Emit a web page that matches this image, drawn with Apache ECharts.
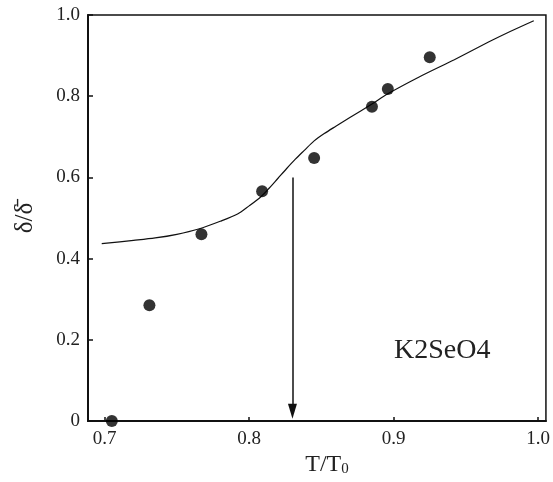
<!DOCTYPE html>
<html>
<head>
<meta charset="utf-8">
<script src="https://cdn.jsdelivr.net/npm/echarts@6/dist/echarts.min.js"></script>
<style>html,body{margin:0;padding:0;background:#fff;}#c{width:553px;height:482px;}</style>
</head>
<body>
<div id="c"></div>
<script>
// Measured points
const pointsX = [0.705, 0.731, 0.767, 0.809, 0.845, 0.885, 0.896, 0.925];
const pointsY = [0.0, 0.285, 0.46, 0.566, 0.648, 0.774, 0.818, 0.896];
// Fitted curve
const curveX = [0.698, 0.720, 0.735, 0.750, 0.765, 0.780, 0.792, 0.800, 0.808, 0.814, 0.820, 0.826, 0.832, 0.838, 0.845, 0.852, 0.860, 0.870, 0.885, 0.896, 0.918, 0.942, 0.966, 0.981, 0.997];
const curveY = [0.437, 0.445, 0.451, 0.460, 0.473, 0.492, 0.510, 0.530, 0.552, 0.574, 0.598, 0.622, 0.645, 0.666, 0.690, 0.708, 0.726, 0.748, 0.781, 0.806, 0.848, 0.890, 0.934, 0.960, 0.986];
// Transition arrow
const arrowX = 0.83;
const arrowTopY = 0.6;
const arrowTipY = 0.024;
// Tick labels
const xTicks = [0.7, 0.8, 0.9, 1.0];
const yTicks = [0, 0.2, 0.4, 0.6, 0.8, 1.0];
const sampleLabel = 'K2SeO4';

const font = 'Liberation Serif';
const chart = echarts.init(document.getElementById('c'));
chart.setOption({
  animation: false,
  backgroundColor: '#fff',
  grid: { left: 88, right: 1, top: 15, bottom: 50, show: true, borderColor: '#111', borderWidth: 1.5 },
  xAxis: {
    type: 'value', min: 0.6885, max: 1.0054,
    name: '{a|T/T}{b|0}', nameLocation: 'middle', nameGap: 22,
    nameTextStyle: { padding: [0, 0, 0, 20], rich: {
      a: { fontFamily: font, fontSize: 24, color: '#222' },
      b: { fontFamily: font, fontSize: 15, color: '#222', padding: [8, 0, 0, 0] } } },
    axisLine: { show: true, onZero: false, lineStyle: { color: '#111', width: 2 } },
    axisTick: { show: true, inside: true, length: 4, customValues: xTicks, lineStyle: { color: '#111', width: 1.5 } },
    axisLabel: { customValues: xTicks, margin: 8, fontFamily: font, fontSize: 19, color: '#222', formatter: v => v.toFixed(1) },
    splitLine: { show: false }
  },
  yAxis: {
    type: 'value', min: 0, max: 1, interval: 0.2,
    name: 'δ/δ\u0304', nameLocation: 'middle', nameGap: 50,
    nameTextStyle: { fontFamily: font, fontSize: 25, color: '#222' },
    axisLine: { show: true, lineStyle: { color: '#111', width: 2 } },
    axisTick: { show: true, inside: true, length: 5, lineStyle: { color: '#111', width: 1.5 } },
    axisLabel: { margin: 8, fontFamily: font, fontSize: 19, color: '#222', formatter: v => v === 0 ? '0' : v.toFixed(1) },
    splitLine: { show: false }
  },
  series: [
    {
      type: 'line', data: curveX.map((x, i) => [x, curveY[i]]), smooth: 0.3, showSymbol: false,
      lineStyle: { color: '#111', width: 1.2 }, z: 2
    },
    {
      type: 'scatter', data: pointsX.map((x, i) => [x, pointsY[i]]), symbol: 'circle', symbolSize: 12,
      itemStyle: { color: '#000' }, z: 3
    },
    {
      type: 'line', data: [], silent: true,
      markLine: {
        silent: true, animation: false,
        symbol: ['none', 'triangle'], symbolSize: [9, 15],
        label: { show: false },
        lineStyle: { color: '#111', width: 1.5, type: 'solid' },
        data: [[{ coord: [arrowX, arrowTopY] }, { coord: [arrowX, arrowTipY] }]]
      }
    }
  ],
  graphic: [{
    type: 'text', left: 394, top: 337,
    style: { text: sampleLabel, fontFamily: font, fontSize: 28, fill: '#222' }
  }]
});
</script>
</body>
</html>
